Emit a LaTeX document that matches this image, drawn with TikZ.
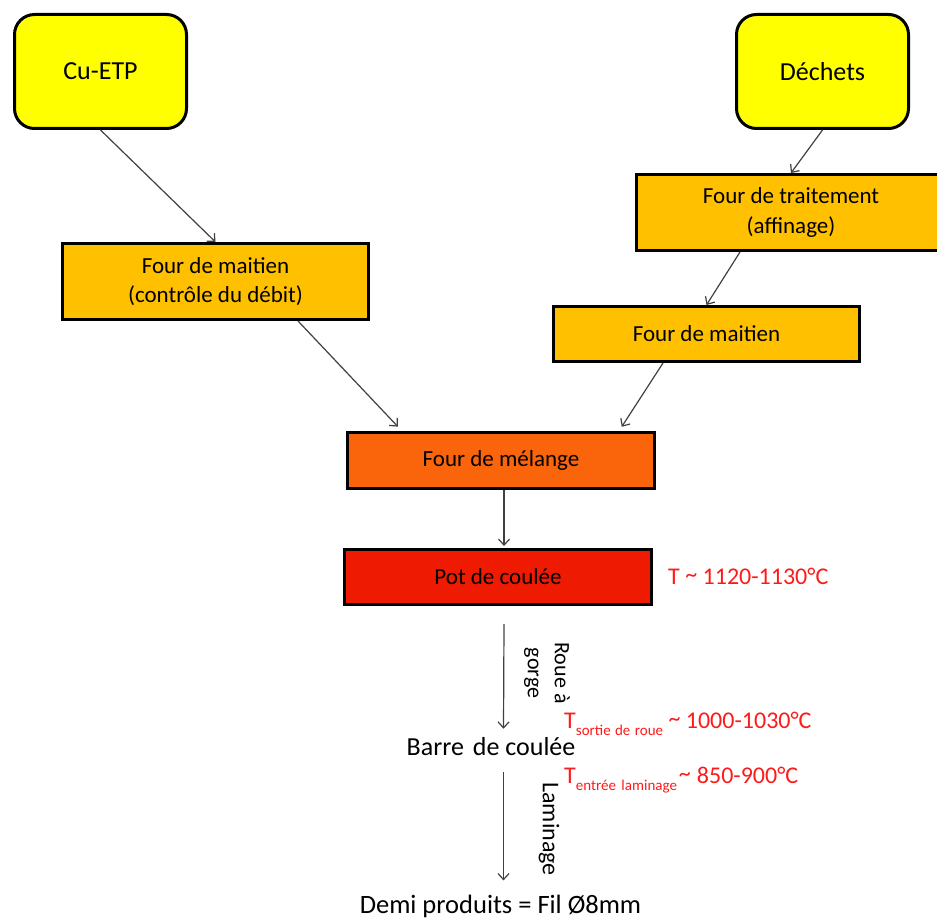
\documentclass[tikz,border=0pt]{standalone}
\usepackage{fontspec}
\setmainfont{Carlito}
\usetikzlibrary{arrows.meta}
\definecolor{cyel}{HTML}{FFFF00}
\definecolor{corange}{HTML}{FFC000}
\definecolor{cmix}{HTML}{FA640A}
\definecolor{cpot}{HTML}{EE1A02}
\definecolor{cred}{HTML}{FF1A1A}
\definecolor{carrow}{HTML}{404040}
\newcommand{\tld}{\raisebox{2pt}{\textasciitilde}}
\begin{document}
\begin{tikzpicture}[x=1pt,y=-1pt,
  box/.style={draw=black, line width=3pt, inner sep=0pt, align=center,
    font=\fontsize{23}{29.5}\selectfont},
  topbox/.style={box, fill=cyel, rounded corners=20pt, minimum width=172pt,
    minimum height=114pt, font=\fontsize{26}{30}\selectfont},
  arr/.style={draw=carrow, line width=1.2pt, -{Straight Barb[length=6pt,width=11pt]}},
  redlbl/.style={text=cred, inner sep=0pt, anchor=base west, font=\fontsize{24}{28}\selectfont},
  plain/.style={inner sep=0pt},
  sidelbl/.style={inner sep=0pt, rotate=-90, align=center, font=\fontsize{22}{27}\selectfont}]
\useasboundingbox (0,0) rectangle (937,920);
\clip (0,0) rectangle (937,920);

\node[topbox] (cu) at (100.5,71.5) {Cu-ETP};
\node[topbox] (de) at (822.5,71.5) {Déchets};
\node[box, fill=corange, minimum width=306pt, minimum height=76pt] (ml) at (215.5,281.5)
  {Four de maitien\\(contrôle du débit)};
\node[box, fill=corange, minimum width=309pt, minimum height=76pt] (tr) at (791,212.5)
  {Four de traitement\\(affinage)};
\node[box, fill=corange, minimum width=306pt, minimum height=55pt] (mr) at (706.5,334)
  {Four de maitien};
\node[box, fill=cmix, minimum width=307pt, minimum height=56pt] (mx) at (501,460.5)
  {Four de mélange};
\node[box, fill=cpot, minimum width=307pt, minimum height=55pt] (pot) at (498,577)
  {Pot de coulée};

\node[redlbl] (t1) at (668,584) {T \tld{} 1120-1130°C};

\node[plain, anchor=base, font=\fontsize{26}{30}\selectfont] (barre) at (491,755) {Barre\hspace{3pt} de coulée};
\node[plain, anchor=base, font=\fontsize{26.5}{30}\selectfont] (demi) at (500.5,913) {Demi produits = Fil Ø8mm};

\node[redlbl] (t2) at (564,728) {T\raisebox{-7pt}{\fontsize{15}{15}\selectfont sortie\hspace{1pt} de\hspace{1pt} roue} \tld{} 1000-1030°C};
\node[redlbl] (t3) at (564,783) {T\raisebox{-7pt}{\fontsize{15}{15}\selectfont entrée\hspace{2pt} laminage}\hspace{2pt}\tld\hspace{6pt}850-900°C};

\node[sidelbl] (roue) at (547,673) {Roue à\\gorge};
\node[sidelbl, font=\fontsize{24}{28}\selectfont] (lam) at (549,829) {Laminage};

\draw[arr] (cu.south) -- (ml.north);
\draw[arr] (de.south) -- (tr.north);
\draw[arr] ([xshift=-51pt]tr.south) -- (mr.north);
\draw[arr, shorten >=6pt] ([xshift=82.5pt]ml.south) -- ([xshift=-99pt]mx.north);
\draw[arr, shorten >=5pt] ([xshift=-43.5pt]mr.south) -- ([xshift=118pt]mx.north);
\draw[arr, shorten >=2pt] ([xshift=3pt]mx.south) -- ([xshift=6pt]pot.north);
\draw[arr] ([xshift=6pt,yshift=-18pt]pot.south) -- ([xshift=12.5pt,yshift=8pt]barre.north);
\draw[arr] ([xshift=12.5pt,yshift=-17pt]barre.south) -- ([xshift=3pt,yshift=14pt]demi.north);
\end{tikzpicture}
\end{document}
